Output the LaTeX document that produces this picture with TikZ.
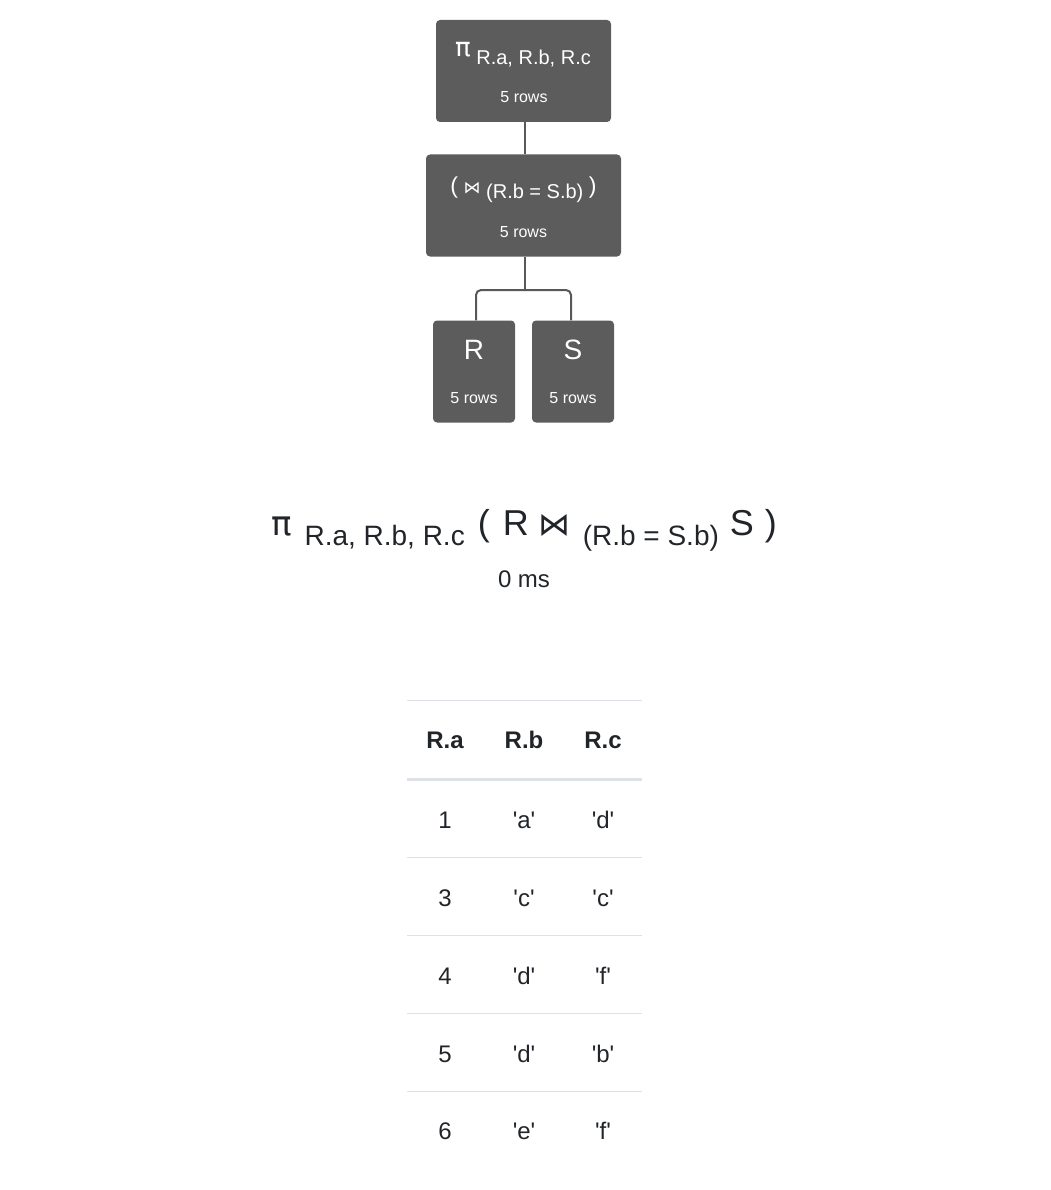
\documentclass[tikz,border=0pt]{standalone}
\usepackage{fontspec}
\setmainfont{Liberation Sans}
\newfontfamily\symfont{DejaVu Sans}
\usetikzlibrary{positioning}
\definecolor{plan_grey}{RGB}{92,92,92}
\definecolor{edge_grey}{RGB}{88,88,88}
\definecolor{ink}{RGB}{33,37,41}
\definecolor{rule_grey}{RGB}{222,226,230}
\newcommand{\fs}[1]{\fontsize{#1}{#1}\selectfont}
\newcommand{\lowr}[2]{\raisebox{-#1pt}{#2}}
\newcommand{\sq}[1]{\textquotesingle#1\textquotesingle}
\tikzstyle{plan}=[rectangle,rounded corners=4pt,fill=plan_grey,draw=none,
  inner sep=0pt,minimum height=102pt]
\tikzstyle{ptitle}=[text=white,inner sep=0pt,anchor=base]
\tikzstyle{prows}=[text=white,inner sep=0pt,anchor=base,font=\fs{16}]
\tikzstyle{edge}=[draw=edge_grey,line width=2pt]
\tikzstyle{cell}=[text=ink,inner sep=0pt,anchor=base,font=\fs{24}]
\tikzstyle{head}=[text=ink,inner sep=0pt,anchor=base,font=\fs{24}\bfseries]
\tikzstyle{rule}=[draw=rule_grey,line width=1pt]

\begin{document}
\begin{tikzpicture}[x=1pt,y=-1pt]
        \useasboundingbox (0,0) rectangle (1050,1190);
        % plan tree
        \node [style=plan, minimum width=175pt] (proj) at (523.5,71) {};
        \node [style=ptitle] (projt) at (523,65) {\raisebox{8pt}{\fs{26}\symfont π}\fs{20} R.a, R.b, R.c};
        \node [style=prows] (projr) at (524,103) {5 rows};
        \node [style=plan, minimum width=195pt] (join) at (523.5,205.5) {};
        \node [style=ptitle] (joint) at (523.5,199) {\fs{20}\raisebox{5pt}{\fs{23}(} \raisebox{5pt}{\fs{17}\symfont ⋈} (R.b = S.b) \raisebox{5pt}{\fs{23})}};
        \node [style=prows] (joinr) at (523.5,237) {5 rows};
        \node [style=plan, minimum width=82pt] (rel_r) at (474,371.5) {};
        \node [style=ptitle, font=\fs{28}] (relrt) at (474,359) {R};
        \node [style=prows] (relrr) at (474,403) {5 rows};
        \node [style=plan, minimum width=82pt] (rel_s) at (573,371.5) {};
        \node [style=ptitle, font=\fs{28}] (relst) at (573,359) {S};
        \node [style=prows] (relsr) at (573,403) {5 rows};
        \coordinate (fork) at (525,290);
        \draw [style=edge] (proj.south -| fork) to (join.north -| fork);
        \draw [style=edge] (join.south -| fork) to (fork);
        \draw [style=edge, rounded corners=5pt] (rel_r.north -| 476,0) |- (fork) -| (rel_s.north -| 571,0);
        % expression
        \node [text=ink, inner sep=0pt, anchor=base, font=\fs{28}] (expr) at (524,535) {{\fs{34}\symfont π}\hspace{13pt}\lowr{10}{R.a, R.b, R.c}\hspace{13pt}{\fs{36}(}\hspace{13pt}{\fs{36}R}\hspace{10pt}{\fs{32}\symfont ⋈}\hspace{12pt}\lowr{10}{(R.b = S.b)}\hspace{11pt}{\fs{36}S}\hspace{11pt}{\fs{36})}};
        \node [text=ink, inner sep=0pt, anchor=base, font=\fs{24}] (time) at (524,587) {0 ms};
        % result table
        \draw [style=rule] (407,700) -- (642,700);
        \draw [draw=rule_grey, line width=3pt] (407,779) -- (642,779);
        \draw [style=rule] (407,857) -- (642,857);
        \draw [style=rule] (407,935) -- (642,935);
        \draw [style=rule] (407,1013) -- (642,1013);
        \draw [style=rule] (407,1091) -- (642,1091);
        \node [style=head] (ha) at (445,748) {R.a};
        \node [style=head] (hb) at (524,748) {R.b};
        \node [style=head] (hc) at (603,748) {R.c};
        \node [style=cell] (a1) at (445,828) {1};
        \node [style=cell] (b1) at (524,828) {\sq{a}};
        \node [style=cell] (c1) at (603,828) {\sq{d}};
        \node [style=cell] (a2) at (445,906) {3};
        \node [style=cell] (b2) at (524,906) {\sq{c}};
        \node [style=cell] (c2) at (603,906) {\sq{c}};
        \node [style=cell] (a3) at (445,984) {4};
        \node [style=cell] (b3) at (524,984) {\sq{d}};
        \node [style=cell] (c3) at (603,984) {\sq{f}};
        \node [style=cell] (a4) at (445,1062) {5};
        \node [style=cell] (b4) at (524,1062) {\sq{d}};
        \node [style=cell] (c4) at (603,1062) {\sq{b}};
        \node [style=cell] (a5) at (445,1139) {6};
        \node [style=cell] (b5) at (524,1139) {\sq{e}};
        \node [style=cell] (c5) at (603,1139) {\sq{f}};
    \end{tikzpicture}
\end{document}
